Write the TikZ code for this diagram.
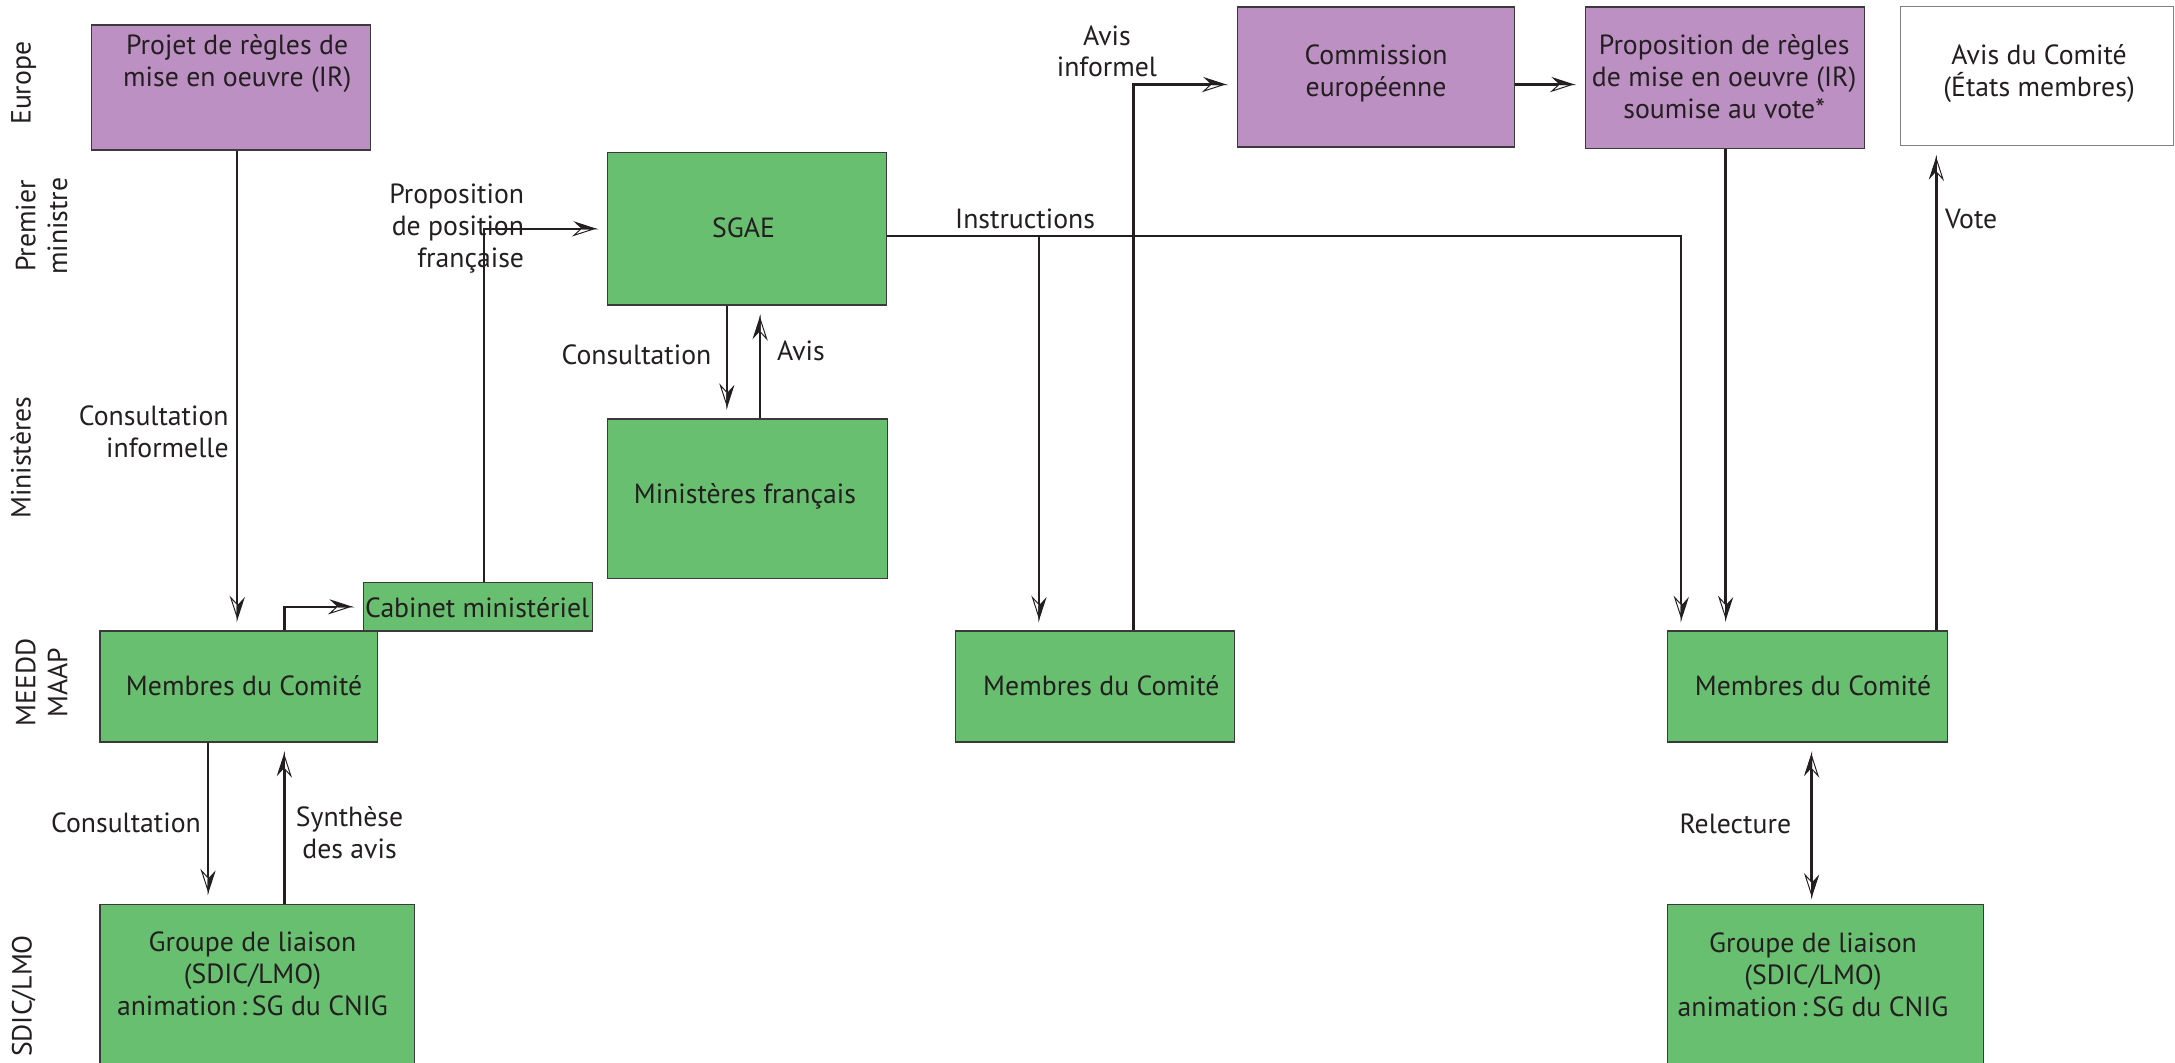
\documentclass[tikz,border=0pt]{standalone}
\usepackage{fontspec}
\setmainfont{PT Sans}
\usetikzlibrary{arrows.meta,calc}
\definecolor{purp}{HTML}{BC90C2}
\definecolor{grn}{HTML}{68BF6F}
\definecolor{ink}{HTML}{231F20}
\definecolor{edge}{HTML}{3A3A3A}
\tikzset{
  halftip/.tip={Stealth[harpoon,swap,length=17pt,width=11pt,inset=6pt,line width=0.7pt,fill=white,sep=-17pt]Stealth[harpoon,length=17pt,width=11pt,inset=6pt,line width=0.7pt,fill=ink]}
}
\begin{document}
\begin{tikzpicture}[x=1pt,y=-1pt,
  every node/.style={font=\fontsize{20}{23}\selectfont, text=ink, inner sep=0pt},
  boxbase/.style={draw=edge, line width=1pt, rectangle, inner sep=0pt},
  pbox/.style={boxbase, fill=purp},
  gbox/.style={boxbase, fill=grn},
  wbox/.style={draw=gray, line width=0.8pt, fill=white, rectangle, inner sep=0pt},
  txt/.style={align=center},
  lane/.style={rotate=90, align=center},
  conn/.style={draw=ink, line width=1.8pt},
  arr/.style={conn, -halftip, shorten >=6pt},
  darr/.style={conn, halftip-halftip, shorten >=3pt, shorten <=6pt},
]
\useasboundingbox (0,0) rectangle (1568,766);
\clip (0,0) rectangle (1568,766);

% boxes
\node[pbox, minimum width=201pt, minimum height=90pt] (projet) at (166.5,63) {};
\node[gbox, minimum width=201pt, minimum height=110pt] (sgae) at (538.5,165) {};
\node[gbox, minimum width=202pt, minimum height=115pt] (minis) at (539,359.5) {};
\node[gbox, minimum width=200pt, minimum height=80pt] (membresL) at (172,495) {};
\node[gbox, minimum width=165pt, minimum height=35pt] (cabinet) at (344.5,437.5) {};
\node[gbox, minimum width=201pt, minimum height=80pt] (membresM) at (789.5,495) {};
\node[gbox, minimum width=202pt, minimum height=80pt] (membresR) at (1303,495) {};
\node[gbox, minimum width=227pt, minimum height=124pt] (groupeL) at (185.5,714) {};
\node[gbox, minimum width=228pt, minimum height=124pt] (groupeR) at (1316,714) {};
\node[pbox, minimum width=200pt, minimum height=101pt] (commission) at (992,55.5) {};
\node[pbox, minimum width=201pt, minimum height=102pt] (proposition) at (1243.5,56) {};
\node[wbox, minimum width=197pt, minimum height=100pt] (avis) at (1468.5,55) {};

% x positions of connectors
\coordinate (xA) at (171,0);
\coordinate (xB) at (205,0);
\coordinate (xC) at (349,0);
\coordinate (xD) at (524,0);
\coordinate (xE) at (548,0);
\coordinate (xF) at (749,0);
\coordinate (xG) at (817,0);
\coordinate (xH) at (1212,0);
\coordinate (xI) at (1244,0);
\coordinate (xJ) at (1396,0);
\coordinate (xK) at (1306,0);
\coordinate (xL) at (150,0);
\coordinate (iy) at (0,170);
\coordinate (ay) at (0,61);

% connectors
\draw[arr] (projet.south -| xA) -- (membresL.north -| xA);
\draw[arr] (membresL.north -| xB) |- (cabinet.west);
\draw[arr] (cabinet.north -| xC) |- (sgae.west);
\draw[arr] (sgae.south -| xD) -- (minis.north -| xD);
\draw[arr] (minis.north -| xE) -- (sgae.south -| xE);
\draw[arr] (sgae.east |- iy) -| (membresR.north -| xH);
\draw[arr] (xF |- iy) -- (membresM.north -| xF);
\draw[arr] (membresM.north -| xG) |- (commission.west |- ay);
\draw[arr] (commission.east |- ay) -- (proposition.west |- ay);
\draw[arr] (proposition.south -| xI) -- (membresR.north -| xI);
\draw[arr] (membresR.north -| xJ) -- (avis.south -| xJ);
\draw[darr] (membresR.south -| xK) -- (groupeR.north -| xK);
\draw[arr] (membresL.south -| xL) -- (groupeL.north -| xL);
\draw[arr] (groupeL.north -| xB) -- (membresL.south -| xB);

% box texts
\node[txt] (tprojet) at (171,46) {Projet de règles de\\mise en oeuvre (IR)};
\node (tsgae) at (536,164) {SGAE};
\node (tminis) at (537,358) {Ministères français};
\node (tcab) at (344,438) {Cabinet ministériel};
\node (tmL) at (176,494) {Membres du Comité};
\node (tmM) at (794,494) {Membres du Comité};
\node (tmR) at (1307,494) {Membres du Comité};
\node[txt] (tgL) at (182,702) {Groupe de liaison\\(SDIC/LMO)\\animation\,:\,SG du CNIG};
\node[txt] (tgR) at (1307,703) {Groupe de liaison\\(SDIC/LMO)\\animation\,:\,SG du CNIG};
\node[txt] (tcom) at (992,53) {Commission\\européenne};
\node[txt] (tprop) at (1243,55) {Proposition de règles\\de mise en oeuvre (IR)\\soumise au vote*};
\node[txt] (tavis) at (1470,53) {Avis du Comité\\(États membres)};

% connector labels
\node[anchor=east, align=right] (lci) at (165,311) {Consultation\\informelle};
\node[anchor=east, align=right] (lpp) at (378,165) {Proposition\\de position\\française};
\node[anchor=east] (lcons) at (513,256) {Consultation};
\node[anchor=west] (lavis) at (560,253) {Avis};
\node (linst) at (739,158) {Instructions};
\node[align=center] (lai) at (798,37) {Avis\\informel};
\node[anchor=west] (lvote) at (1402,158) {Vote};
\node (lrel) at (1251,594) {Relecture};
\node[anchor=east] (lcons2) at (145,593) {Consultation};
\node[align=center] (lsyn) at (252,600) {Synthèse\\des avis};

% lane labels
\node[lane] (lEurope) at (17,60) {Europe};
\node[lane] (lPM) at (30,163) {Premier\\ministre};
\node[lane] (lMin) at (15,330) {Ministères};
\node[lane] (lMEEDD) at (30,492) {MEEDD\\MAAP};
\node[lane] (lSDIC) at (17,718) {SDIC/LMO};
\end{tikzpicture}
\end{document}
